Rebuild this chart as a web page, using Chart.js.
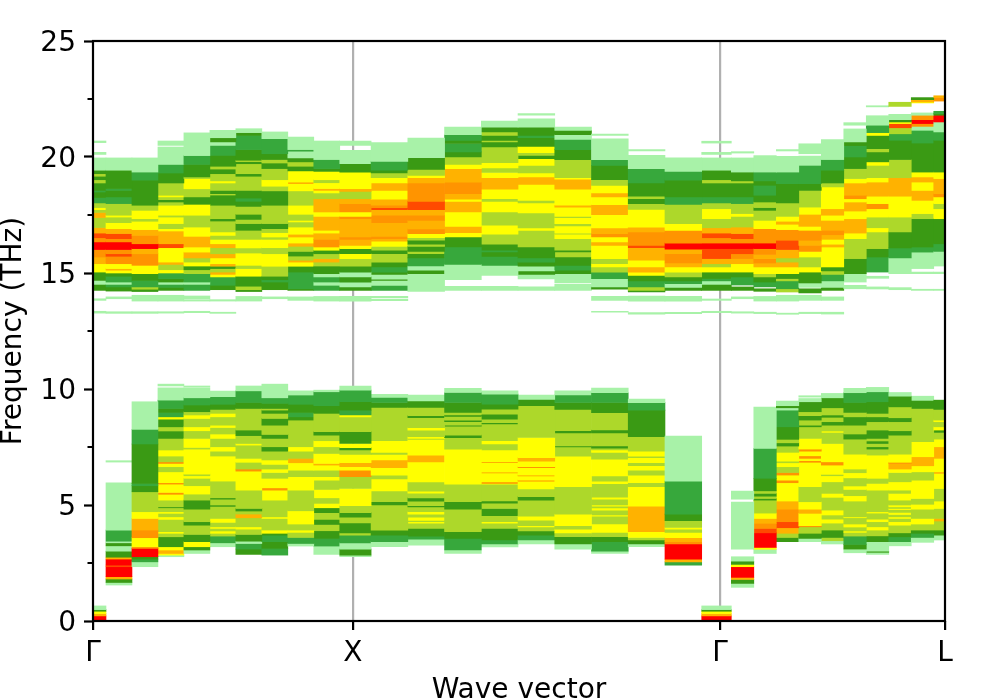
<!DOCTYPE html>
<html><head><meta charset="utf-8">
<style>html,body{margin:0;padding:0;background:#fff;overflow:hidden}canvas{display:block}</style>
<script src="https://cdn.jsdelivr.net/npm/chart.js@4"></script>
</head><body><canvas id="c" width="997" height="698"></canvas>
<script>
const qPath = [0,0.1,0.2,0.3,0.4,0.5,0.6,0.7,0.8,0.9,1,1.1414,1.2828,1.4243,1.5657,1.7071,1.8485,1.9899,2.1314,2.2728,2.4142,2.5008,2.5874,2.674,2.7606,2.8472,2.9338,3.0204,3.107,3.1936,3.2802];
const xTickValues = [0,1,2.4142,3.2802];
const xTickLabels = ['Γ','X','Γ','L'];
const yMinorTicks = [2.5,7.5,12.5,17.5,22.5];
const levelColors = ['rgba(0,0,0,0)','#a8f2a8','#37a83c','#3a9a14','#add82a','#ffff00','#ffb200','#ff9400','#ff4a00','#ff0000'];
// each band list: frequency edge, level, frequency edge, level, ... frequency edge (level 0 = empty)
const col00=[20.69,1,20.62,0,20.2,1,20.11,0,19.96,1,19.43,3,19.28,4,19.17,3,19.02,4,18.88,3,18.56,2,18.49,3,18.25,2,18.02,4,17.82,5,17.73,4,17.61,6,17.39,4,16.96,6,16.72,8,16.52,7,16.34,9,16.01,7,15.69,6,15.4,5,15.04,3,14.68,1,14.51,3,14.25,0,13.89,1,13.82,0,13.35,1,13.27,0,0.65,1,0.49,3,0.42,5,0.32,6,0.22,9,0];
const col01=[19.96,1,19.43,3,18.64,2,18.56,3,18.28,2,17.99,4,17.49,5,17.41,4,17.17,5,16.91,6,16.7,8,16.48,7,16.34,9,16.01,7,15.83,8,15.72,7,15.4,5,15.19,6,15.12,5,15,3,14.86,2,14.61,1,14.51,2,14.4,3,14.22,0,13.97,1,13.89,0,13.33,1,13.26,0,6.91,1,6.85,0,5.96,1,3.92,2,3.44,1,3.37,3,3.24,1,3.01,3,2.75,6,2.67,9,2.41,8,2.34,9,1.91,6,1.81,3,1.66,1,1.55];
const col02=[19.96,1,19.35,2,19,3,17.92,4,17.7,5,17.34,4,17.23,5,16.87,6,16.62,7,16.26,9,16.05,6,15.83,7,15.33,5,14.97,3,14.68,2,14.4,4,14.3,3,14.2,0,14.04,1,13.79,0,13.33,1,13.26,0,9.45,1,8.26,2,7.63,3,5.93,2,5.83,3,5.57,4,4.71,5,4.42,6,3.92,7,3.59,5,3.2,7,3.13,9,2.77,3,2.67,2,2.55,1,2.34];
const col03=[20.69,1,20.5,0,20.43,1,19.68,2,19.31,3,18.88,4,18.35,5,18.28,4,18.16,3,18.06,4,17.92,5,17.49,4,17.41,5,17.13,4,16.91,5,16.81,6,16.26,8,16.09,5,15.47,6,15.37,4,15.14,5,15,2,14.76,3,14.61,1,14.51,2,14.38,3,14.25,0,14.04,1,13.79,0,13.33,1,13.27,0,10.21,1,10.13,0,10.05,1,9.52,2,9.16,3,8.99,2,8.8,5,8.7,3,8.37,4,8.19,3,7.87,4,7.37,5,7.11,4,6.86,7,6.79,5,6.65,4,6.43,5,5.96,7,5.9,5,5.54,7,5.46,5,5.21,4,4.92,3,4.88,4,4.71,5,4.64,4,4.49,5,4.38,4,3.85,5,3.78,4,3.63,3,3.2,5,3.06,6,2.91,5,2.84,1,2.77];
const col04=[21.04,1,20.06,2,19.68,3,19.14,4,19.07,5,18.63,4,18.28,3,17.96,5,17.49,4,16.98,5,16.58,6,16.12,5,15.9,6,15.65,4,15.47,5,15.3,3,15.14,4,14.97,2,14.61,1,14.51,2,14.25,0,14.01,1,13.89,0,13.85,1,13.79,0,13.35,1,13.29,0,10.13,1,10.07,0,10.03,1,9.62,2,9.31,3,9.02,4,8.88,5,8.73,4,8.37,5,8.2,4,7.87,5,7.48,4,7.41,5,6.33,4,6.26,5,6.15,4,5.83,5,5.47,4,5.21,3,4.82,4,4.28,3,4.13,4,3.73,3,3.42,5,3.2,3,3.06,1,2.91];
const col05=[21.15,1,20.83,3,20.65,1,20.5,2,20.07,3,19.6,4,19.48,3,19.28,4,18.97,5,18.88,4,18.56,3,18.42,4,18.36,3,17.92,4,17.34,3,17.24,4,16.77,5,16.62,4,16.45,5,16.26,6,16.09,4,15.83,6,15.65,5,15.4,6,15.29,3,15.19,4,15.04,6,14.94,5,14.83,2,14.47,3,14.28,0,13.85,1,13.79,0,13.31,1,13.26,0,9.91,1,9.67,2,9.34,3,9.12,4,8.95,5,8.8,4,8.44,5,8.34,4,8.06,5,7.87,4,7.51,5,7.32,4,7.11,5,6.03,4,5.31,3,5.25,4,5,3,4.94,4,4.42,5,4.25,4,4.06,5,3.99,4,3.88,5,3.78,4,3.66,2,3.37,1,3.2];
const col06=[21.22,1,21.05,3,20.93,2,20.32,3,19.86,4,19.8,3,19.71,4,19.28,3,19.17,4,18.56,3,18.23,2,18.09,3,17.87,4,17.53,3,17.31,4,17.13,3,16.84,4,16.45,5,16.08,4,15.86,5,15.33,4,15.19,5,14.86,3,14.43,4,14.28,3,14.2,0,13.99,1,13.79,0,10.13,1,9.92,2,9.42,3,9.16,4,8.23,3,7.99,4,7.65,5,7.58,4,7.01,5,6.84,4,6.55,7,6.46,5,5.64,4,4.85,3,4.74,4,4.61,6,4.45,4,4.06,5,3.96,4,3.73,3,3.44,1,3.34,2,3.1,3,2.87];
const col07=[21.08,1,20.79,2,20.14,3,19.89,4,19.74,3,19.5,4,19.02,5,18.74,4,18.54,3,17.92,4,17.13,3,16.91,4,16.74,5,16.55,4,16.45,5,16.09,4,15.83,5,15.29,4,14.86,3,14.71,2,14.61,3,14.28,0,13.97,1,13.89,0,10.21,1,9.62,2,9.38,3,9.16,4,9.09,3,8.95,4,8.73,3,8.44,4,8.04,3,7.87,4,7.51,3,7.32,4,6.94,5,6.75,4,6.55,5,6.4,4,6.15,5,5.74,7,5.64,5,5.21,4,4.49,5,4.42,4,3.92,5,3.78,3,3.7,2,3.42,3,3.13,2,2.84];
const col08=[20.86,1,20.32,2,20.25,1,19.96,3,19.79,4,19.6,3,19.4,5,18.92,6,18.85,5,18.54,4,17.92,5,17.53,4,17.27,5,17.2,4,16.98,5,16.67,6,16.55,5,16.29,6,16.15,4,15.93,3,15.73,4,15.55,6,15.47,5,15.29,3,15.04,2,14.32,3,14.25,0,13.97,1,13.82,0,9.92,1,9.74,2,9.34,3,8.99,2,8.8,3,8.66,4,7.51,5,7.32,4,7.01,6,6.82,5,6.5,4,6.22,5,5.64,4,4.75,5,4.18,4,3.92,5,3.82,4,3.6,2,3.34,1,3.23];
const col09=[20.69,1,19.89,2,19.5,3,19.38,5,19.02,4,18.89,5,18.64,6,18.56,5,18.45,4,18.2,6,17.63,5,17.44,6,16.84,5,16.72,6,16.45,7,16.12,5,15.98,3,15.83,4,15.62,6,15.47,4,15.3,3,14.97,1,14.83,2,14.61,1,14.47,2,14.25,0,13.99,1,13.79,0,9.95,1,9.88,2,9.28,3,8.95,4,8.16,3,8.01,4,7.77,5,7.51,4,7.22,5,6.79,6,6.72,5,6.5,4,6.22,5,6.07,4,5.67,5,5.31,4,5.07,5,4.88,3,4.67,4,4.38,3,4.16,4,3.89,3,3.56,2,3.23,1,2.87];
const col10=[20.69,1,20.5,0,20.29,1,19.71,3,19.35,5,18.64,6,18.52,4,18.2,6,17.99,7,17.63,5,17.44,7,17.34,6,16.55,7,16.45,6,16.19,5,16.05,3,15.83,5,15.62,4,15.29,3,15.04,1,14.83,3,14.61,1,14.4,3,14.25,0,13.99,1,13.79,0,10.13,1,9.95,2,9.45,3,9.09,2,8.88,5,8.8,4,8.16,3,7.65,5,7.47,3,7.37,4,7.18,5,6.82,6,6.65,5,6.5,7,6.22,4,5.71,5,4.97,4,4.67,3,4.48,4,4.23,3,3.8,4,3.7,2,3.37,1,3.1,3,2.84,1,2.77];
const col11=[20.62,1,19.81,2,19.43,3,19.31,4,19.11,5,18.88,6,18.56,5,18.18,6,17.92,7,17.82,8,17.73,6,17.49,7,17.17,6,16.58,7,16.48,6,16.37,5,16.15,4,15.98,3,15.83,4,15.47,3,15.26,2,15.04,3,14.94,1,14.73,3,14.68,1,14.47,2,14.25,0,13.99,1,13.94,0,13.88,1,13.81,0,9.77,1,9.64,2,9.42,3,9.21,4,7.77,5,7.27,4,7.18,5,6.94,6,6.61,5,6.29,4,6.12,5,5.61,4,5.14,3,5,4,3.92,3,3.7,2,3.42,1,3.2];
const col12=[20.82,1,19.97,3,19.47,4,19.21,5,19.11,6,18.88,7,18.09,8,17.73,6,17.49,7,17.27,6,16.9,7,16.7,5,16.52,4,16.41,3,16.24,4,16.15,3,15.93,4,15.83,3,15.65,2,15.3,1,15.12,3,14.97,1,14.21,0,9.74,1,9.49,3,9.21,4,8.85,3,8.76,4,8.33,5,8.23,4,7.94,5,7.87,4,7.83,5,7.15,6,6.86,5,6,4,5.6,5,5.51,4,5.31,3,5.17,4,4.97,3,4.92,4,4.71,5,4.61,4,4.48,5,4.34,4,4.28,5,4.22,4,3.99,3,3.66,2,3.53,1,3.27];
const col13=[21.29,1,20.96,2,20.72,3,20.58,2,20.22,3,20,4,19.68,5,19.5,6,18.92,7,18.42,6,18.18,5,18.09,6,17.63,5,17.01,6,16.74,5,16.55,3,16.12,2,15.37,1,14.71,0,14.43,1,14.25,0,10.03,1,9.85,2,9.42,3,8.99,4,8.88,3,8.82,4,8.66,3,8.59,4,8.44,3,8.4,4,8.01,3,7.9,4,7.41,5,5.9,4,5.14,3,4.82,4,3.85,3,3.56,2,3.06,1,2.91];
const col14=[21.55,1,21.29,3,21.08,4,20.93,3,20.72,4,20.65,3,20.43,4,19.76,5,19.53,4,19.33,5,19.11,6,18.61,5,18.2,4,18.09,5,17.63,4,17.06,5,16.67,4,16.24,3,15.98,2,15.91,3,15.72,2,15.33,1,14.9,0,14.43,1,14.25,0,9.92,1,9.78,2,9.35,3,9.13,4,8.92,3,8.7,4,8.55,3,8.49,4,7.77,5,7.63,4,7.37,5,6.86,7,6.82,5,6.42,7,6.38,5,6,7,5.93,5,5.9,4,5.18,3,5.08,4,4.85,3,4.54,4,4.28,5,4.22,4,3.99,3,3.49,2,3.32,1,3.19];
const col15=[21.87,1,21.8,0,21.64,1,21.29,3,20.93,2,20.83,3,20.46,5,20.19,4,20.07,3,19.93,5,19.64,4,19.31,5,19.14,6,18.82,5,18.13,4,18.02,5,17.59,4,16.94,5,16.84,4,16.12,3,15.65,2,15.47,3,15.29,1,15.09,3,14.94,1,14.74,0,14.4,1,14.25,0,9.74,1,9.55,3,9.28,4,7.91,5,7.04,6,6.89,5,6.65,7,6.61,5,6.29,7,6.25,5,6.07,7,6.03,5,5.69,4,5.36,3,5.21,4,4.52,5,4.35,4,4.11,5,4.05,4,3.88,3,3.7,2,3.49,1,3.32];
const col16=[21.29,1,21.15,3,20.96,1,20.76,2,20.32,3,19.89,4,19.11,5,19.04,6,18.61,5,17.92,6,17.84,5,17.44,4,17.39,5,17.13,4,17.03,5,16.72,4,16.67,5,16.48,4,15.98,3,15.91,4,15.69,3,15.33,2,15.12,3,14.97,1,14.57,0,14.51,1,14.25,0,9.92,1,9.74,2,9.42,3,9.12,4,8.2,3,8.11,4,7.55,3,7.5,4,7.11,5,5.79,4,4.61,5,4.11,4,3.96,5,3.8,4,3.63,3,3.32,1,3.1];
const col17=[20.99,1,20.93,0,20.78,1,19.89,2,19.64,3,19.02,4,18.78,5,18.45,6,18.28,5,17.95,6,17.51,5,16.94,6,16.7,7,16.55,5,16.34,6,16.19,5,15.62,4,15.4,5,15.26,4,15.04,2,14.76,1,14.4,3,14.3,0,13.99,1,13.82,0,13.35,1,13.31,0,10.04,1,9.84,2,9.42,3,8.98,4,8.24,3,8.11,4,7.55,3,7.45,4,7.37,5,7.27,4,6.98,5,6.25,4,6.03,5,5.92,4,5.34,5,5.25,4,5,5,4.95,4,4.87,5,4.78,4,4.57,5,4.52,4,4.18,5,3.82,4,3.63,3,3.42,2,3.01,1,2.91];
const col18=[20.32,1,20.26,0,20.07,1,19.5,2,18.88,3,18.31,4,18.2,3,17.99,4,17.74,5,16.98,6,16.77,7,16.19,8,16.09,6,15.55,5,15.26,6,15.04,5,14.9,3,14.66,2,14.4,4,14.25,3,14.18,0,14.01,1,13.79,0,13.29,1,13.23,0,9.57,1,9.41,2,9.09,3,7.94,4,7.32,5,7.11,4,7.04,5,6.82,4,6.69,5,6.5,4,6.29,5,5.96,4,5.79,5,4.95,6,3.85,5,3.6,4,3.49,3,3.32,1,3.2];
const col19=[19.96,1,19.38,2,19,3,18.28,2,17.96,4,17.13,5,16.84,7,16.29,9,16.03,6,15.83,7,15.43,6,15.26,5,15.04,4,14.83,3,14.66,2,14.54,1,14.38,3,14.25,0,13.99,1,13.79,0,13.31,1,13.25,0,7.97,1,6.03,2,4.61,3,4.32,4,4.03,5,3.96,4,3.82,5,3.59,6,3.42,7,3.32,9,2.67,6,2.55,2,2.41];
const col20=[20.68,1,20.6,0,20.2,1,20.11,0,19.96,1,19.43,3,19.02,4,18.88,3,18.28,2,18.02,4,17.77,5,17.34,4,16.95,6,16.72,8,16.52,7,16.29,9,16.05,8,15.62,6,15.4,4,15.26,5,15.04,3,14.76,2,14.66,1,14.51,3,14.25,0,13.88,1,13.82,0,13.35,1,13.29,0,0.65,1,0.49,3,0.42,5,0.32,6,0.22,9,0];
const col21=[20.23,1,20.17,0,19.96,1,19.35,3,18.97,4,18.88,3,18.28,2,17.99,4,17.56,5,17.44,4,16.98,6,16.7,8,16.48,7,16.29,9,16.05,8,15.83,7,15.62,6,15.4,5,15.04,3,14.83,2,14.48,0,14.4,3,14.25,0,13.97,1,13.89,0,13.33,1,13.27,0,5.6,1,5.25,0,5.13,1,3.1,0,2.77,1,2.58,3,2.44,5,2.34,9,1.88,6,1.79,3,1.62,1,1.45];
const col22=[20.06,1,19.35,2,18.97,3,18.78,2,18.35,3,18.06,4,17.82,3,17.7,4,17.27,5,16.91,7,16.29,9,16.05,7,15.8,6,15.62,7,15.43,6,15.26,5,14.97,4,14.83,3,14.61,2,14.4,0,14.32,3,14.21,0,13.99,1,13.79,0,13.31,1,13.25,0,9.22,1,7.44,2,6.15,3,5.61,4,5.5,3,5.38,4,5.28,3,5.21,4,4.65,5,4.42,6,4.21,7,3.99,8,3.8,9,3.17,5,3.09,1,2.91];
const col23=[20.32,1,20.26,0,20.03,1,19.35,2,18.85,3,18.02,4,17.44,5,17.23,6,17.1,5,16.87,7,16.41,8,16.01,6,15.65,4,15.47,6,15.26,5,14.97,3,14.76,4,14.66,2,14.32,4,14.18,0,14.04,1,13.79,0,13.27,1,13.22,0,9.48,1,9.28,3,9.19,1,9.09,2,8.37,3,7.83,4,7.68,3,7.54,4,7.27,5,6.89,4,6.82,5,6.65,4,6.4,7,6.29,5,6.07,7,5.96,5,5.17,6,4.82,7,4.28,8,4.02,6,3.78,4,3.6,3,3.42];
const col24=[20.57,1,20.14,0,20.04,1,19.64,2,18.85,3,18.56,4,17.84,5,17.53,6,17.01,5,16.84,7,16.41,6,16.19,7,15.93,5,15.69,4,15.26,5,15.04,3,14.57,1,14.38,0,14.32,3,14.14,0,14.04,1,13.82,0,13.31,1,13.25,0,9.71,1,9.65,0,9.59,1,9.45,3,9.02,4,8.85,3,8.66,4,8.44,3,8.37,4,7.87,5,7.41,7,7.32,5,7.12,7,7.01,5,6.91,7,6.84,5,5.79,4,5.14,5,4.82,6,4.64,5,4.11,7,4.06,4,3.78,3,3.56,1,3.42];
const col25=[20.75,1,19.89,2,19.43,3,18.88,4,18.71,5,17.77,6,17.49,5,17.27,6,16.84,7,16.65,6,16.45,5,16.24,6,16.12,5,15.26,3,15.09,4,14.94,2,14.66,1,14.38,3,14.25,0,13.97,1,13.82,0,13.31,1,13.23,0,9.81,1,9.62,3,9.19,4,8.88,3,8.78,4,8.59,3,8.44,4,8.19,5,8.13,4,7.65,5,6.86,7,6.72,5,6.32,4,6.26,5,6,4,5.5,5,5.33,4,4.78,5,4.57,4,4.39,5,4.22,4,3.92,3,3.6,4,3.46,1,3.32];
const col26=[21.48,1,21.37,0,21.21,1,20.65,3,20.49,2,20,3,19.5,4,19.07,5,18.88,6,18.35,7,18.2,5,18.06,6,17.67,5,17.34,6,16.72,5,16.48,4,15.62,3,14.97,1,14.61,0,14.47,1,14.32,0,10.03,1,9.84,2,9.42,3,8.99,4,8.8,3,8.44,4,8.06,3,7.84,4,7.19,5,6.55,4,6.39,5,6.17,4,5.82,5,5.67,4,5.4,5,5.17,4,4.49,5,4.45,4,4.18,5,4.05,4,3.88,5,3.82,4,3.66,2,3.3,3,3.1,1,2.94];
const col27=[22.21,1,22.16,0,21.78,1,21.37,2,21.05,5,20.93,3,20.36,4,20.22,3,19.79,5,19.64,4,19.11,5,18.92,6,18.31,5,17.99,7,17.77,5,17.41,4,16.95,5,16.77,4,16.05,3,15.69,2,15.04,0,14.86,1,14.77,0,14.4,1,14.31,0,10.07,1,9.88,2,9.45,3,8.95,4,8.8,3,8.59,4,8.23,3,7.87,4,7.76,3,7.65,4,7.51,3,7.41,4,7.15,5,6.15,4,5.93,5,5.64,4,4.71,5,4.65,4,4.39,5,4.28,4,4.06,5,3.92,4,3.67,3,3.42,1,3.01,3,2.96,1,2.87];
const col28=[22.36,4,22.18,0,21.84,1,21.61,3,21.51,5,21.44,8,21.26,4,21,2,20.72,3,19.89,4,19.11,6,18.31,5,17.41,4,16.77,3,16.08,2,15.65,1,14.97,0,14.37,1,14.28,0,9.85,1,9.69,3,9.23,4,8.76,3,8.59,4,8.2,3,8.01,4,7.19,5,6.84,7,6.79,6,6.55,5,6.4,4,6,5,5.64,4,5.5,5,5.21,4,5,5,4.92,4,4.85,5,4.8,4,4.68,5,4.59,4,4.49,5,4.42,4,4.28,5,4.13,4,3.8,3,3.63,2,3.42,1,3.24];
const col29=[22.56,3,22.47,6,22.37,5,22.33,0,21.9,1,21.8,7,21.61,9,21.44,7,21.32,1,21.15,2,20.6,3,19.35,5,19.14,6,18.92,5,18.56,6,18.13,5,17.56,4,17.34,3,16.12,2,15.9,1,15.19,0,15.04,1,14.97,0,14.3,1,14.25,0,9.69,1,9.51,3,9.16,4,7.73,5,7.08,6,6.69,5,6.43,4,6.07,5,5.28,4,5.03,5,4.82,4,4.42,5,4.18,4,3.92,3,3.78,2,3.6,1,3.39];
const col30=[22.64,6,22.56,7,22.41,0,21.97,2,21.87,3,21.8,9,21.51,1,21.08,2,20.72,3,19.35,5,19.07,6,18.42,7,18.28,5,17.99,4,17.77,5,17.34,3,16.26,2,15.93,1,15.3,0,15.04,1,14.97,0,14.3,1,14.25,0,9.52,3,9.12,4,8.66,5,8.59,4,8.37,5,8.23,3,8.13,4,7.84,5,7.51,6,7.01,5,6.43,6,6.36,5,5.71,4,5.17,5,4.85,4,4.42,6,4.31,4,3.92,3,3.7,1,3.49];
const bandColumns=[col00,col01,col02,col03,col04,col05,col06,col07,col08,col09,col10,col11,col12,col13,col14,col15,col16,col17,col18,col19,col20,col21,col22,col23,col24,col25,col26,col27,col28,col29,col30];

const segments = bandColumns.map(list => {
  const out = [];
  for (let i = 1; i + 1 < list.length; i += 2) if (list[i] > 0) out.push({lo:list[i+1], hi:list[i-1], level:list[i]});
  return out;
});
const slotCount = Math.max(...segments.map(s => s.length));
const datasets = [];
for (let k = 0; k < slotCount; k++) {
  datasets.push({
    stack:'bands',
    data: qPath.map((q,i) => ({x:q, y: segments[i][k] ? [segments[i][k].lo, segments[i][k].hi] : [0,0]})),
    backgroundColor: qPath.map((q,i) => levelColors[segments[i][k] ? segments[i][k].level : 0]),
    borderWidth: 0, barThickness: 'flex', categoryPercentage: 1, barPercentage: 1
  });
}
const font = {family:'"DejaVu Sans"', size:28};
const titleFont = {family:'"DejaVu Sans"', size:28, lineHeight:1};
const framePlugin = {
  id:'frame',
  afterDraw(chart){
    const {ctx, chartArea:a, scales:{y}} = chart;
    ctx.save(); ctx.strokeStyle='#000'; ctx.lineWidth=2.2;
    ctx.strokeRect(a.left,a.top,a.right-a.left,a.bottom-a.top);
    ctx.beginPath();
    yMinorTicks.forEach(v => { const p=y.getPixelForValue(v); ctx.moveTo(a.left-5.5,p); ctx.lineTo(a.left,p); });
    ctx.stroke(); ctx.restore();
  }
};
new Chart(document.getElementById('c'), {
  type:'bar',
  data:{datasets},
  plugins:[framePlugin],
  options:{
    responsive:false, animation:false, events:[],
    layout:{padding:{top:41,right:52,left:0,bottom:0}},
    plugins:{legend:{display:false},tooltip:{enabled:false},title:{display:false}},
    scales:{
      x:{type:'linear',offset:false,min:0,max:3.2802,
        afterBuildTicks(s){ s.ticks = xTickValues.map(v=>({value:v})); },
        afterFit(s){ s.height = 77; },
        grid:{offset:false,drawOnChartArea:true,tickLength:9,lineWidth:2.2,tickWidth:2.2,tickColor:'#000',
          color:c => (c.index===1||c.index===2)?'#b0b0b0':'rgba(0,0,0,0)'},
        border:{display:false},
        ticks:{autoSkip:false,maxRotation:0,color:'#000',font,padding:7,callback:(v,i)=>xTickLabels[i]},
        title:{display:true,text:'Wave vector',color:'#000',font:titleFont,padding:{top:0,bottom:-7}}
      },
      y:{min:0,max:25,stacked:false,
        afterBuildTicks(s){ s.ticks=[0,5,10,15,20,25].map(v=>({value:v})); },
        afterFit(s){ s.width = 93; },
        grid:{drawOnChartArea:false,tickLength:9,tickWidth:2.2,tickColor:'#000'},
        border:{display:false},
        ticks:{color:'#000',font,padding:8,labelOffset:2.5},
        title:{display:true,text:'Frequency (THz)',color:'#000',font:titleFont,padding:{top:0,bottom:0}}
      }
    }
  }
});
</script></body></html>
